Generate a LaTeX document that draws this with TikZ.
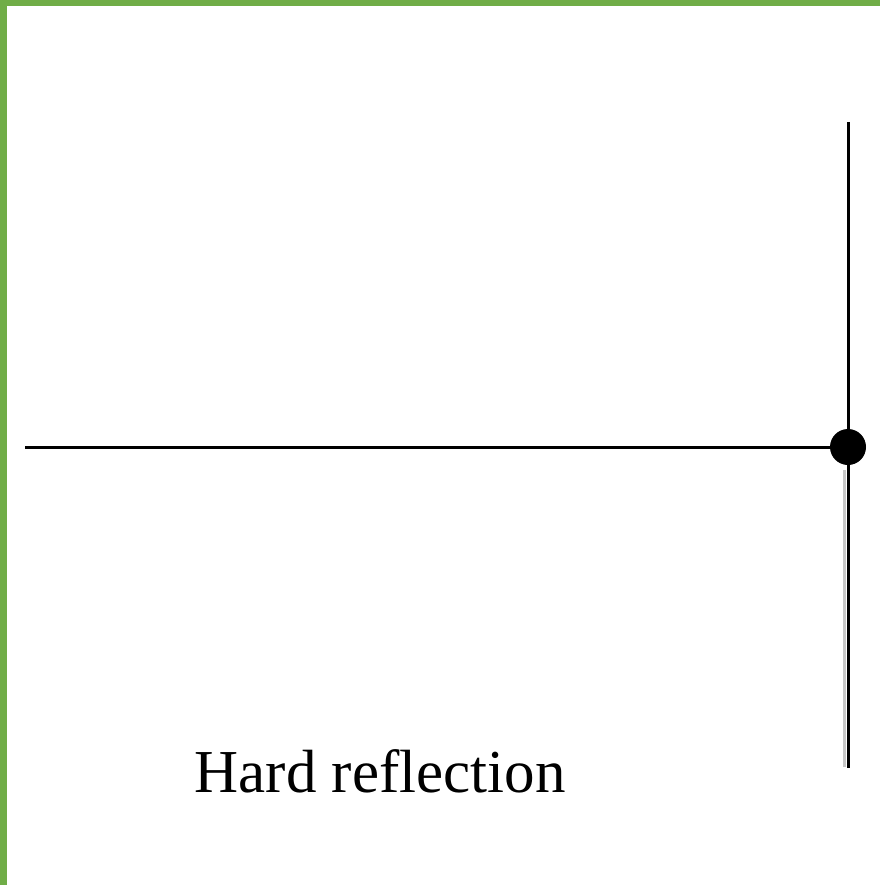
\documentclass[tikz,border=0pt]{standalone}
\usepackage{fontspec}
\setmainfont{Liberation Serif}
\usepackage{tikz}
\usetikzlibrary{positioning}
\definecolor{frame}{RGB}{112,173,71}

\begin{document}
\begin{tikzpicture}[x=1pt,y=-1pt, every node/.style={font=\fontsize{61}{70}\selectfont}, wire/.style={line width=3pt}, knot/.style={circle,fill=black,inner sep=0pt,minimum size=36pt}]
\useasboundingbox (0,0) rectangle (880,885);
\fill[frame] (0,0) rectangle (880,6);
\fill[frame] (0,0) rectangle (7,885);
\node[knot] (end) at (848,447) {};
\coordinate (top) at (848,122);
\coordinate (bot) at (848,768);
\coordinate (src) at (25,447);
\draw[gray!45,line width=3pt] (844,470) -- (844,767);
\draw[wire] (src) -- (end.center); \draw[wire] (top) -- (bot);
\node[anchor=base] (lbl) at (380,792) {Hard reflection};
\end{tikzpicture}
\end{document}
